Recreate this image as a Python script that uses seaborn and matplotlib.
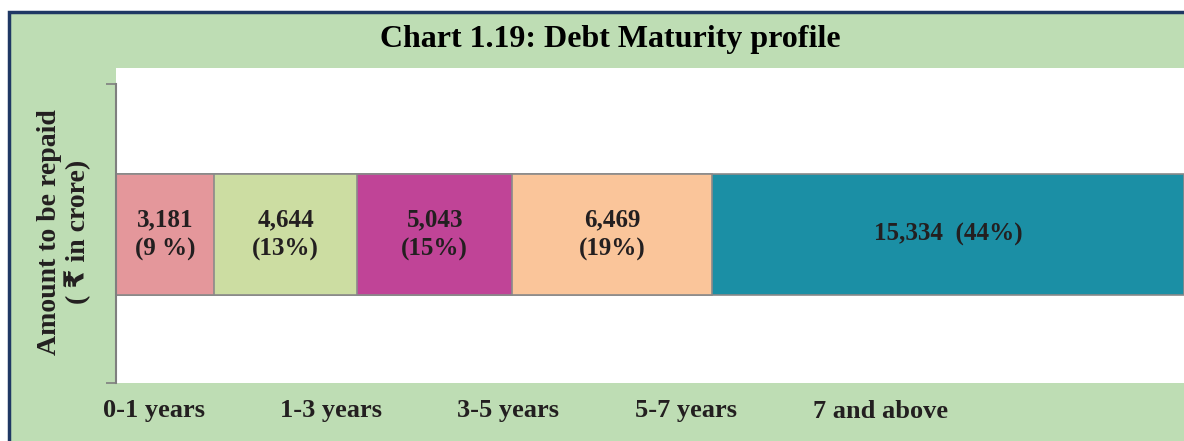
import matplotlib
matplotlib.use("Agg")
import matplotlib.pyplot as plt
import matplotlib.patches as mpatches
import seaborn as sns
import numpy as np
import pandas as pd

# chart data
buckets = ['0-1 years', '1-3 years', '3-5 years', '5-7 years', '7 and above']
amounts = [3181, 4644, 5043, 6469, 15334]
bar_labels = ['3,181\n(9 %)', '4,644\n(13%)', '5,043\n(15%)', '6,469\n(19%)', '15,334  (44%)']
bar_colors = ['#E4979B', '#CCDDA2', '#C04497', '#FAC59A', '#1B8FA5']

W, H = 1184, 441
PANEL_GREEN = '#BEDDB4'
NAVY = '#1F3864'
TEXT = '#231F20'

sns.set_theme(style='white')
plt.rcParams['font.family'] = ['Liberation Serif', 'DejaVu Sans']

fig = plt.figure(figsize=(W / 100, H / 100), dpi=100)
fig.patch.set_facecolor('white')


def fx(px):
    return px / W


def fy(py):
    return 1 - py / H


# green panel with navy frame (right/bottom edges fall outside the crop)
panel = mpatches.Rectangle((fx(9), -0.1), 1.2, fy(12) + 0.1, transform=fig.transFigure,
                           facecolor=PANEL_GREEN, edgecolor=NAVY, linewidth=2.5, zorder=-2)
fig.patches.append(panel)

# white plot area
plot_area = mpatches.Rectangle((fx(116), fy(383)), 1.0, fy(68) - fy(383), transform=fig.transFigure,
                               facecolor='white', edgecolor='none', zorder=-1)
fig.patches.append(plot_area)

ax = fig.add_axes([fx(116), fy(383), 1 - fx(116), fy(68) - fy(383)])
ax.set_facecolor('none')
ax.set_zorder(2)

df = pd.DataFrame({'bucket': buckets, 'amount': amounts})
df['cum'] = df['amount'].cumsum()
df['start'] = df['cum'] - df['amount']
df['row'] = 'debt'
total = df['amount'].sum()

# stacked bar: draw cumulative totals from largest to smallest so each overlays the previous
for i in range(len(df) - 1, -1, -1):
    sns.barplot(data=df.iloc[[i]], x='cum', y='row', orient='h', color=bar_colors[i],
                saturation=1, width=0.5, edgecolor='#8a8a8a', linewidth=1.2, ax=ax)

ax.set_xlim(0, total)
ax.set_ylim(0.614, -0.688)

for i, row in df.iterrows():
    ax.text(row['start'] + row['amount'] / 2, 0, bar_labels[i], ha='center', va='center',
            fontsize=18, fontweight='bold', color=TEXT, linespacing=1.35)

for side in ['top', 'right', 'bottom']:
    ax.spines[side].set_visible(False)
ax.spines['left'].set_bounds(0.614, -0.622)
ax.spines['left'].set_color('#7f7f7f')
ax.spines['left'].set_linewidth(1.5)
ax.set_yticks([0.614, -0.622])
ax.set_yticklabels([])
ax.tick_params(axis='y', left=True, length=7, width=1.2, color='#7f7f7f', direction='out')
ax.set_xticks([])
ax.set_xlabel('')
ax.set_ylabel('')

fig.text(fx(610), fy(39), 'Chart 1.19: Debt Maturity profile', ha='center', va='center',
         fontsize=23, fontweight='bold', color='black')

fig.text(fx(64), fy(232), 'Amount to be repaid\n( ₹ in crore)', ha='center', va='center',
         rotation=90, fontsize=20, fontweight='bold', color=TEXT, linespacing=1.15)

# category names along the bottom
label_left = [103, 280, 457, 635, 813]
for name, lx in zip(buckets, label_left):
    fig.text(fx(lx), fy(411), name, ha='left', va='center', fontsize=19,
             fontweight='bold', color=TEXT)

fig.savefig('out.png', dpi=100, facecolor=fig.get_facecolor())
